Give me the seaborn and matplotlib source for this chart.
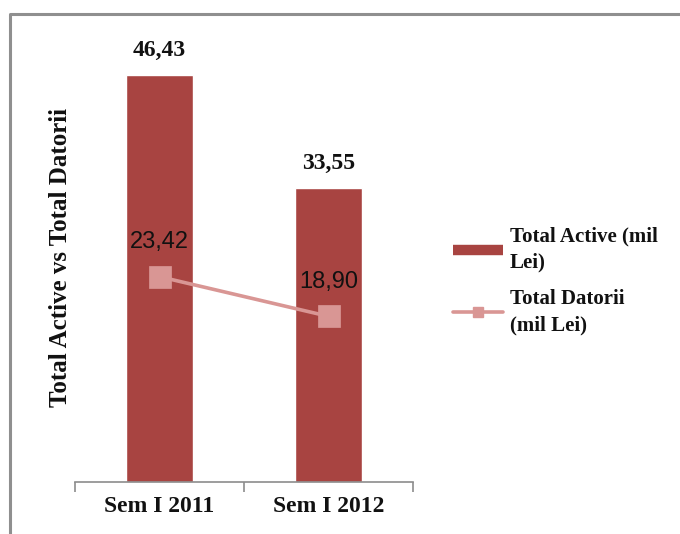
import matplotlib
matplotlib.use("Agg")
import matplotlib.pyplot as plt
from matplotlib.lines import Line2D
import seaborn as sns
import pandas as pd

categories = ["Sem I 2011", "Sem I 2012"]
total_active = [46.43, 33.55]
total_datorii = [23.42, 18.90]
series_names = ["Total Active (mil\nLei)", "Total Datorii\n(mil Lei)"]
y_title = "Total Active vs Total Datorii"

BAR = "#A84441"
LINE = "#D99694"
INK = "#111111"
SERIF = "Liberation Serif"
SANS = "Liberation Sans"


def fmt(v):
    return f"{v:.2f}".replace(".", ",")


sns.set_theme(style="white")
fig = plt.figure(figsize=(6.8, 5.34), dpi=100)
ax = fig.add_axes([75 / 680, 52 / 534, 338 / 680, 438.3 / 534])

df = pd.DataFrame({"cat": categories, "active": total_active, "datorii": total_datorii})
sns.barplot(data=df, x="cat", y="active", color=BAR, width=0.4, saturation=1,
            ax=ax, zorder=2)
sns.pointplot(data=df, x="cat", y="datorii", color=LINE, markers="s",
              markersize=14, linewidth=2.6, ax=ax, zorder=3)

ax.set_ylim(0, 50)
ax.set_xlim(-0.5, 1.5)

# value labels
for i, v in enumerate(total_active):
    ax.annotate(fmt(v), (i, v), xytext=(0, 10), textcoords="offset points",
                ha="center", va="bottom", fontsize=17, fontweight="bold",
                family=SERIF, color=INK)
for i, v in enumerate(total_datorii):
    ax.annotate(fmt(v), (i, v), xytext=(0, 25), textcoords="offset points",
                ha="center", va="center", fontsize=17, family=SANS, color=INK)

# axes styling
for s in ["top", "right", "left"]:
    ax.spines[s].set_visible(False)
ax.spines["bottom"].set_color("#8c8c8c")
ax.spines["bottom"].set_linewidth(1.2)
ax.set_yticks([])
ax.set_xticks([0, 1])
ax.set_xticklabels(categories, fontsize=17, fontweight="bold", family=SERIF,
                   color=INK)
ax.tick_params(axis="x", which="major", bottom=False, length=0, pad=10)
ax.set_xticks([-0.5, 0.5, 1.5], minor=True)
ax.tick_params(axis="x", which="minor", bottom=True, length=7, width=1.2,
               color="#8c8c8c", direction="out")
ax.set_xlabel("")
ax.set_ylabel(y_title, fontsize=18, fontweight="bold", family=SERIF, color=INK)
ax.yaxis.set_label_coords(-3 / 338, 0.513)

# legend
handles = [
    Line2D([], [], color=BAR, lw=7.5, solid_capstyle="butt"),
    Line2D([], [], color=LINE, lw=2.6, marker="s", markersize=7.5),
]
leg = fig.legend(handles, series_names, loc="upper left",
                 bbox_to_anchor=(445 / 680, 1 - 218 / 534), frameon=False,
                 prop={"family": SERIF, "weight": "bold", "size": 15},
                 handlelength=2.4, handletextpad=0.3, labelspacing=0.8,
                 borderaxespad=0.0)
for t in leg.get_texts():
    t.set_color(INK)
    t.set_linespacing(1.4)

# outer frame
fig.add_artist(Line2D([10 / 680, 10 / 680, 1.0], [0.0, 1 - 14 / 534, 1 - 14 / 534],
                      transform=fig.transFigure, color="#8f8f8f", lw=2.2))

fig.savefig("out.png", dpi=100, facecolor="white")
